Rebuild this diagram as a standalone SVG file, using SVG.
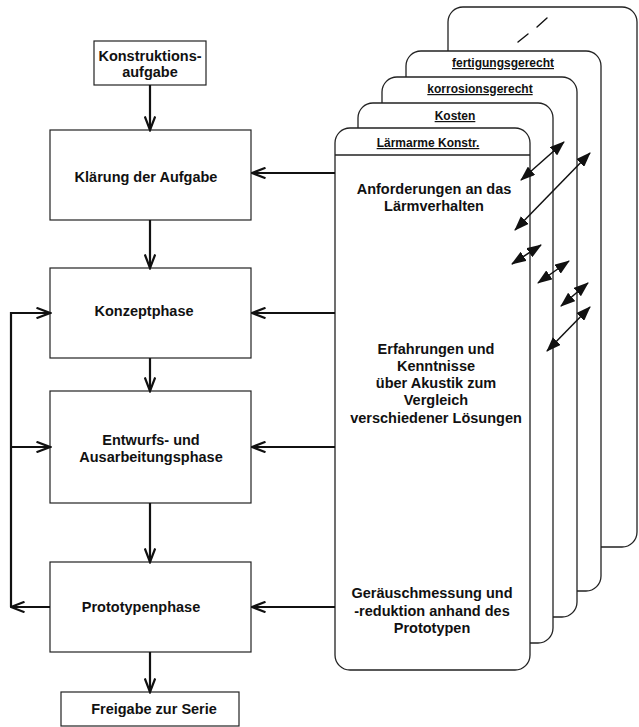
<svg xmlns="http://www.w3.org/2000/svg" width="639" height="727" viewBox="0 0 639 727">
  <style>
    .box { fill: #fff; stroke: #222; stroke-width: 1.2; }
    .card { fill: #fff; stroke: #222; stroke-width: 1.3; }
    .t { font-family: "Liberation Sans", Arial, sans-serif; font-weight: bold; font-size: 14.5px; fill: #111; text-anchor: middle; }
    .h { font-family: "Liberation Sans", Arial, sans-serif; font-weight: bold; font-size: 12px; fill: #111; text-anchor: middle; text-decoration: underline; }
    .flow { fill: none; stroke: #111; stroke-width: 2.2; marker-end: url(#chev); }
    .dbl { fill: none; stroke: #111; stroke-width: 1.5; marker-start: url(#tri); marker-end: url(#tri); }
    .dash { stroke: #111; stroke-width: 1.4; stroke-linecap: round; }
  </style>
  <defs>
    <marker id="chev" markerUnits="userSpaceOnUse" viewBox="0 0 16 12" markerWidth="16" markerHeight="12" refX="14.5" refY="6" orient="auto">
      <path d="M1,0.8 L14.5,6 L1,11.2" fill="none" stroke="#111" stroke-width="2.2"/>
    </marker>
    <marker id="tri" markerUnits="userSpaceOnUse" viewBox="0 0 15 11" markerWidth="15" markerHeight="11" refX="14" refY="5.5" orient="auto-start-reverse">
      <path d="M0,0 L15,5.5 L0,11 Z" fill="#111"/>
    </marker>
  </defs>

  <!-- stacked requirement cards, back to front -->
  <g id="card-back">
    <rect class="card" x="448" y="7" width="189" height="540" rx="15"/>
    <line class="dash" x1="518" y1="42" x2="528" y2="34"/>
    <line class="dash" x1="537" y1="27" x2="547" y2="18"/>
  </g>
  <g id="card-fertigung">
    <rect class="card" x="406" y="51" width="195" height="540" rx="15"/>
    <text class="h" x="503" y="67">fertigungsgerecht</text>
  </g>
  <g id="card-korrosion">
    <rect class="card" x="382" y="77" width="195" height="540" rx="15"/>
    <text class="h" x="480" y="93">korrosionsgerecht</text>
  </g>
  <g id="card-kosten">
    <rect class="card" x="358" y="103" width="195" height="540" rx="15"/>
    <text class="h" x="455" y="120">Kosten</text>
  </g>
  <g id="card-laerm">
    <rect class="card" x="335" y="128" width="195" height="542" rx="15"/>
    <line x1="335" y1="155" x2="530" y2="155" stroke="#222" stroke-width="1.3"/>
    <text class="h" x="428" y="147">Lärmarme Konstr.</text>
    <text class="t" x="434" y="194">Anforderungen an das</text>
    <text class="t" x="434" y="211">Lärmverhalten</text>
    <text class="t" x="436" y="354">Erfahrungen und</text>
    <text class="t" x="436" y="371">Kenntnisse</text>
    <text class="t" x="436" y="388">über Akustik zum</text>
    <text class="t" x="436" y="405">Vergleich</text>
    <text class="t" x="436" y="423">verschiedener Lösungen</text>
    <text class="t" x="432" y="598">Geräuschmessung und</text>
    <text class="t" x="432" y="616">-reduktion anhand des</text>
    <text class="t" x="432" y="633">Prototypen</text>
  </g>

  <!-- process steps -->
  <g id="konstruktionsaufgabe">
    <rect class="box" x="94" y="41" width="112" height="44"/>
    <text class="t" x="150" y="61">Konstruktions-</text>
    <text class="t" x="150" y="77">aufgabe</text>
  </g>
  <g id="klaerung">
    <rect class="box" x="50" y="130" width="201" height="90"/>
    <text class="t" x="146" y="182">Klärung der Aufgabe</text>
  </g>
  <g id="konzept">
    <rect class="box" x="50" y="268" width="201" height="90"/>
    <text class="t" x="144" y="316">Konzeptphase</text>
  </g>
  <g id="entwurf">
    <rect class="box" x="50" y="391" width="201" height="112"/>
    <text class="t" x="151" y="445">Entwurfs- und</text>
    <text class="t" x="151" y="462">Ausarbeitungsphase</text>
  </g>
  <g id="prototyp">
    <rect class="box" x="50" y="562" width="201" height="90"/>
    <text class="t" x="141" y="612">Prototypenphase</text>
  </g>
  <g id="freigabe">
    <rect class="box" x="61" y="692" width="178" height="34"/>
    <text class="t" x="154" y="714">Freigabe zur Serie</text>
  </g>

  <!-- connectors -->
  <g id="connectors">
    <path class="flow" d="M150,85 V130"/>
    <path class="flow" d="M150,220 V268"/>
    <path class="flow" d="M150,358 V391"/>
    <path class="flow" d="M150,503 V562"/>
    <path class="flow" d="M150,652 V692"/>

    <path class="flow" d="M335,173 H252"/>
    <path class="flow" d="M335,313 H252"/>
    <path class="flow" d="M335,447 H252"/>
    <path class="flow" d="M335,607 H252"/>

    <path class="flow" d="M50,607 H11"/>
    <path class="flow" d="M11,607 V313 H50"/>
    <path class="flow" d="M11,447 H50"/>

    <path class="dbl" d="M521,180 L564,142"/>
    <path class="dbl" d="M515,230 L590,153"/>
    <path class="dbl" d="M512,264 L541,245"/>
    <path class="dbl" d="M538,283 L569,261"/>
    <path class="dbl" d="M561,306 L588,283"/>
    <path class="dbl" d="M547,351 L590,307"/>
  </g>
</svg>
